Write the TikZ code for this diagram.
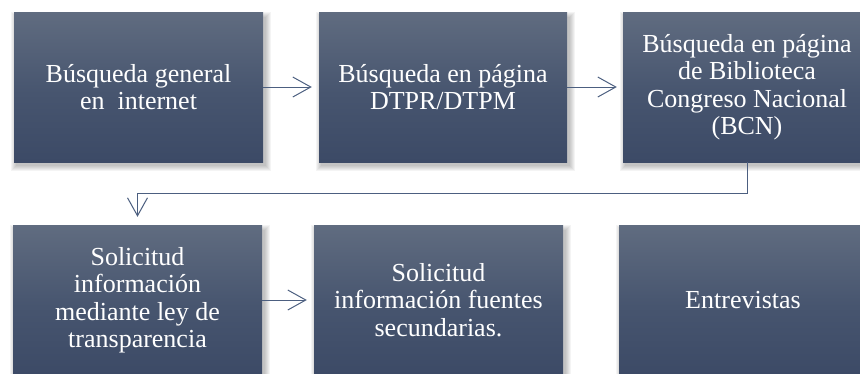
\documentclass[tikz,border=0pt]{standalone}
\usepackage{fontspec}
\setmainfont{Liberation Serif}
\usetikzlibrary{arrows.meta,backgrounds}
\definecolor{ctop}{HTML}{606C80}
\definecolor{cmid}{HTML}{47556F}
\definecolor{cbot}{HTML}{3C4A66}
\definecolor{cline}{HTML}{4C5F80}
\pgfdeclareverticalshading{boxshade}{100bp}{color(0bp)=(cbot); color(25bp)=(cbot); color(48bp)=(cmid); color(75bp)=(ctop); color(100bp)=(ctop)}
\tikzset{
  stepbox/.style={shading=boxshade, draw=none, inner sep=0pt, text=white,
    align=center, font=\fontsize{26}{27.5}\selectfont},
  flow/.style={draw=cline, line width=1pt,
    -{Straight Barb[length=18pt,width=20pt,line width=1pt]}},
}
\newcommand{\softshadow}[1]{%
  \foreach \i in {0,1,...,5}{%
    \fill[black,opacity=0.045]
      ([xshift=2pt-\i pt,yshift=-5pt+\i pt]#1.north west) rectangle
      ([xshift=3pt+\i pt,yshift=-4pt-\i pt]#1.south east);
  }}
\begin{document}
\begin{tikzpicture}[x=1pt,y=-1pt]
\useasboundingbox (0,0) rectangle (860,373);
\clip (0,0) rectangle (860,373);
\node[stepbox, minimum width=249pt, minimum height=150pt] (b1) at (138.5,87)
  {Búsqueda general\\en\ \ internet};
\node[stepbox, minimum width=248pt, minimum height=150pt] (b2) at (443,87)
  {Búsqueda en página\\DTPR/DTPM};
\node[stepbox, minimum width=248pt, minimum height=150pt] (b3) at (747,87)
  {Búsqueda en página\\de Biblioteca\\Congreso Nacional\\(BCN)};
\node[stepbox, minimum width=249pt, minimum height=150pt] (b4) at (137.5,300)
  {Solicitud\\información\\mediante ley de\\transparencia};
\node[stepbox, minimum width=249pt, minimum height=150pt] (b5) at (438.5,300)
  {Solicitud\\información fuentes\\secundarias.};
\node[stepbox, minimum width=248pt, minimum height=150pt] (b6) at (743,300)
  {Entrevistas};
\begin{scope}[on background layer]
  \softshadow{b1}\softshadow{b2}\softshadow{b3}
  \softshadow{b4}\softshadow{b5}\softshadow{b6}
\end{scope}
\draw[flow, shorten >=7pt] (b1.east) -- (b2.west);
\draw[flow, shorten >=6pt] (b2.east) -- (b3.west);
\draw[flow, shorten >=7pt] (b4.east) -- (b5.west);
\draw[flow, shorten >=8pt] (b3.south) -- ++(0,31) -| (b4.north);
\end{tikzpicture}
\end{document}
